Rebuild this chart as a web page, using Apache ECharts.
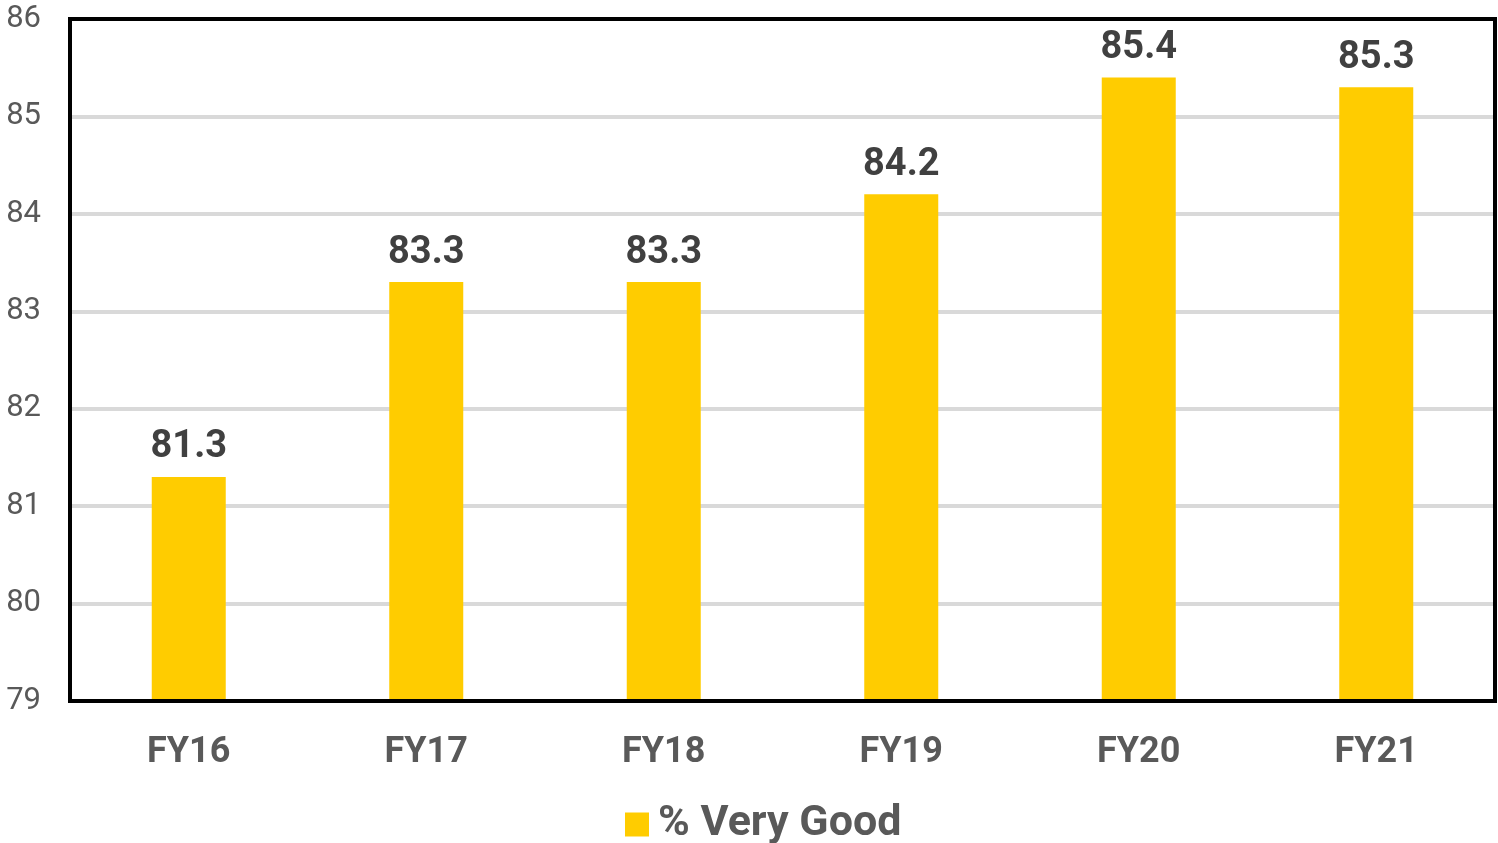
<!DOCTYPE html>
<html>
<head>
<meta charset="utf-8">
<script src="https://cdn.jsdelivr.net/npm/echarts@6/dist/echarts.min.js"></script>
<style>
  html, body { margin: 0; padding: 0; background: #fff; }
  #chart { width: 1498px; height: 843px; }
</style>
</head>
<body>
<div id="chart"></div>
<script>
var years = ['FY16', 'FY17', 'FY18', 'FY19', 'FY20', 'FY21'];
var veryGood = [81.3, 83.3, 83.3, 84.2, 85.4, 85.3];
var seriesName = '% Very Good';

var chart = echarts.init(document.getElementById('chart'));

var option = {
    animation: false,
    textStyle: { fontFamily: 'Roboto' },
    grid: {
        top: 19,
        left: 70,
        right: 3,
        bottom: 142,
        show: true,
        borderColor: '#000',
        borderWidth: 4,
        z: 3
    },
    legend: {
        top: 798,
        left: 620,
        icon: 'rect',
        itemWidth: 24,
        itemHeight: 24,
        itemGap: 10,
        textStyle: { fontSize: 43, fontWeight: 'bold', color: '#595959', padding: [0, 0, 0, 4] },
        data: [seriesName]
    },
    xAxis: {
        type: 'category',
        data: years,
        axisTick: { show: false },
        axisLine: { show: false },
        axisLabel: { fontSize: 36, fontWeight: 'bold', color: '#595959', margin: 34 }
    },
    yAxis: {
        type: 'value',
        min: 79,
        max: 86,
        interval: 1,
        axisLine: { show: false },
        axisTick: { show: false },
        axisLabel: { fontSize: 31, color: '#595959', margin: 29 },
        splitLine: { lineStyle: { color: '#d9d9d9', width: 4 } }
    },
    series: [{
        name: seriesName,
        type: 'bar',
        data: veryGood,
        barWidth: 74,
        itemStyle: { color: '#ffcc00' },
        label: {
            show: true,
            position: 'top',
            distance: 10,
            fontSize: 38,
            fontWeight: 'bold',
            color: '#404040'
        }
    }]
};

chart.setOption(option);
</script>
</body>
</html>
